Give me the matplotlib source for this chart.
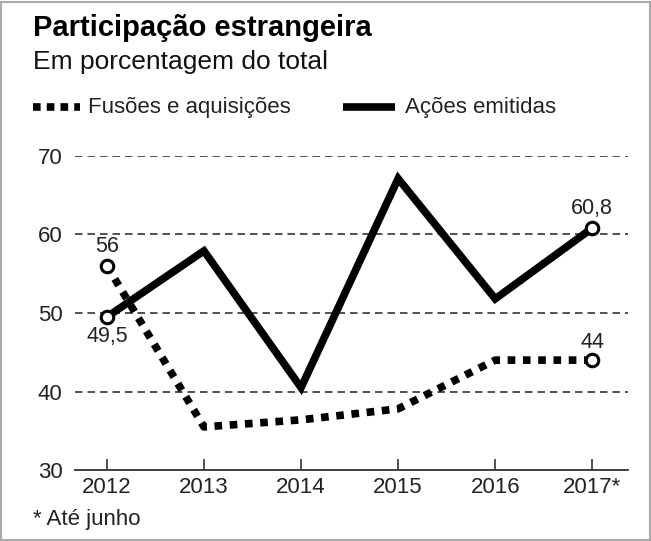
import matplotlib.pyplot as plt
from matplotlib.patches import Rectangle

plt.rcParams['font.family'] = ['Liberation Sans', 'DejaVu Sans']

anos = [2012, 2013, 2014, 2015, 2016, 2017]
rotulos_x = ['2012', '2013', '2014', '2015', '2016', '2017*']
fusoes = [56, 35.5, 36.4, 37.8, 44, 44]       # fusoes e aquisicoes
acoes = [49.5, 57.9, 40.5, 67.1, 51.8, 60.8]  # acoes emitidas
yticks = [30, 40, 50, 60, 70]

fig = plt.figure(figsize=(6.51, 5.41), dpi=100)
ax = fig.add_axes([0.115, 0.131, 0.85, 0.581])

# gridlines
for v in yticks[1:]:
    ax.axhline(v, color='#333333', lw=1.2, ls=(0, (4.5, 3)), zorder=1)

ax.plot(anos, fusoes, color='black', lw=5.5, ls=(0, (1, 1)),
        solid_capstyle='butt', dash_capstyle='butt', zorder=3, clip_on=False)
ax.plot(anos, acoes, color='black', lw=5.5, solid_joinstyle='miter',
        zorder=4, clip_on=False)

# open circles at the ends
for serie in (fusoes, acoes):
    ax.plot([anos[0], anos[-1]], [serie[0], serie[-1]], 'o', ms=9,
            mfc='white', mec='black', mew=2.2, zorder=5, clip_on=False)

lab = dict(fontsize=15.5, color='#222222', ha='center')
ax.text(anos[0], fusoes[0] + 1.1, '56', va='bottom', **lab)
ax.text(anos[0], acoes[0] - 1.1, '49,5', va='top', **lab)
ax.text(anos[-1], acoes[-1] + 1.1, '60,8', va='bottom', **lab)
ax.text(anos[-1], fusoes[-1] + 0.9, '44', va='bottom', **lab)

ax.set_xlim(2011.67, 2017.37)
ax.set_ylim(30, 70)
ax.set_xticks(anos)
ax.set_xticklabels(rotulos_x, fontsize=16, color='#222222')
ax.set_yticks(yticks)
ax.set_yticklabels([str(v) for v in yticks], fontsize=16, color='#222222')
ax.tick_params(axis='x', direction='in', length=8, width=1.2, pad=5, colors='#333333',
               labelcolor='#222222')
ax.tick_params(axis='y', length=0, pad=9)
for s in ['top', 'right', 'left']:
    ax.spines[s].set_visible(False)
ax.spines['bottom'].set_linewidth(1.3)
ax.spines['bottom'].set_color('#333333')

# titles
fig.text(0.05, 0.948, 'Participação estrangeira', fontsize=21, fontweight='bold',
         va='center', color='black')
fig.text(0.05, 0.885, 'Em porcentagem do total', fontsize=19, va='center', color='#111111')

# legend
ly = 1 - 107 / 541
fig.lines.append(plt.Line2D([33 / 651, 80 / 651], [ly, ly], transform=fig.transFigure,
                            color='black', lw=5.5, ls=(0, (1, 0.8)),
                            dash_capstyle='butt'))
fig.text(88 / 651, ly, 'Fusões e aquisições', fontsize=16, va='center', color='#222222')
fig.lines.append(plt.Line2D([343 / 651, 395 / 651], [ly, ly], transform=fig.transFigure,
                            color='black', lw=5.5, solid_capstyle='butt'))
fig.text(405 / 651, ly, 'Ações emitidas', fontsize=16, va='center', color='#222222')

fig.text(33 / 651, 1 - 520 / 541, '* Até junho', fontsize=16, va='center', color='#222222')

# frame round the figure
fig.patches.append(Rectangle((0.002, 0.002), 0.996, 0.994, transform=fig.transFigure,
                             fill=False, ec='#aaaaaa', lw=1.5))

fig.savefig('out.png', dpi=100)
